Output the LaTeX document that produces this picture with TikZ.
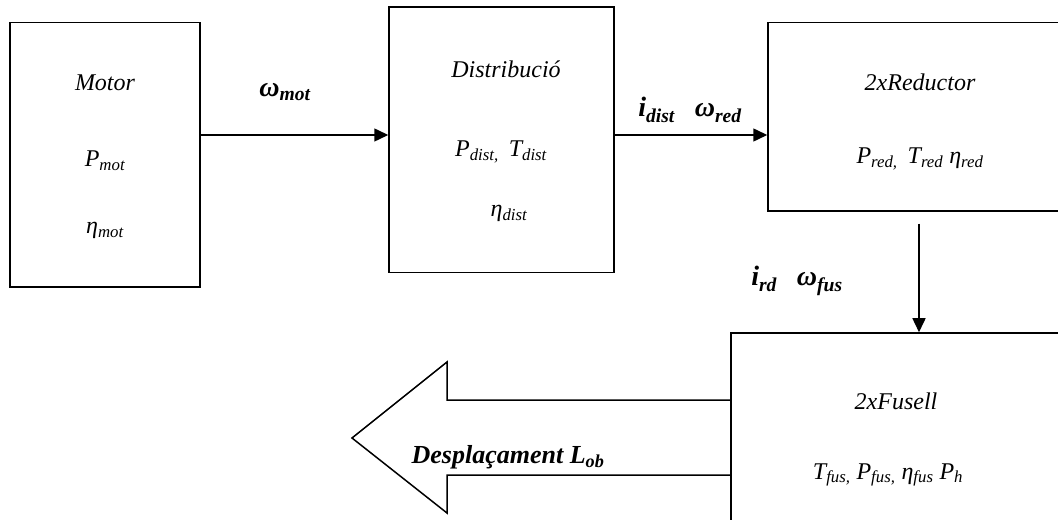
\documentclass[tikz,border=0pt]{standalone}
\usepackage{fontspec}
\setmainfont{Liberation Serif}
\usetikzlibrary{arrows.meta}
\begin{document}
\begin{tikzpicture}[x=1bp,y=-1bp,
  block/.style={draw,line width=1.5bp,inner sep=0pt},
  conn/.style={line width=1.5bp,-{Triangle[length=14bp,width=13bp]}},
  txt/.style={font=\fontsize{24bp}{28bp}\selectfont\itshape,inner sep=0pt,anchor=base},
  lbl/.style={font=\fontsize{28bp}{32bp}\selectfont\bfseries\itshape,inner sep=0pt,anchor=base},
  lblbig/.style={font=\fontsize{26bp}{30bp}\selectfont\bfseries\itshape,inner sep=0pt,anchor=base}]
\fill[white] (0,0) rectangle (1058,520);
\clip (0,0) rectangle (1058,520);

% blocks
\node[block,minimum width=190bp,minimum height=264.3bp] (motor) at (105,154.85) {};
\node[block,minimum width=225bp,minimum height=265.5bp] (dist) at (501.5,139.75) {};
\node[block,minimum width=302bp,minimum height=188.3bp] (red) at (919,116.85) {};
\node[block,minimum width=339bp,minimum height=227bp] (fus) at (900.5,446.5) {};

% block contents
\node[txt] (tmotor) at (105,90.7) {Motor};
\node[txt] (pmot) at (105,166.7) {P\textsubscript{mot}};
\node[txt] (emot) at (105,234) {η\textsubscript{mot}};

\node[txt] (tdist) at (506,77.3) {Distribució};
\node[txt] (pdist) at (501,156.7) {P\textsubscript{dist,}\hspace{10bp}T\textsubscript{dist}};
\node[txt] (edist) at (509,216.7) {η\textsubscript{dist}};

\node[txt] (tred) at (920,90.7) {2xReductor};
\node[txt] (pred) at (920,163.3) {P\textsubscript{red,}\hspace{10bp}T\textsubscript{red} η\textsubscript{red}};

\node[txt] (tfus) at (896,409) {2xFusell};
\node[txt] (pfus) at (888,479) {T\textsubscript{fus,} P\textsubscript{fus,} η\textsubscript{fus} P\textsubscript{h}};

% connectors
\draw[conn] (motor.east |- 0,135) -- (dist.west |- 0,135);
\draw[conn] (dist.east |- 0,135) -- (red.west |- 0,135);
\coordinate (redout) at ([yshift=-12bp]red.south);
\draw[conn] (redout) -- (fus.north -| redout);

% connector labels
\node[lbl] (wmot) at (285,96.7) {ω\textsubscript{mot}};
\node[lbl] (idist) at (690,117) {i\textsubscript{dist}\hspace{20bp}ω\textsubscript{red}};
\node[lbl] (ird) at (797,286) {i\textsubscript{rd}\hspace{20bp}ω\textsubscript{fus}};

% output arrow
\draw[line width=1.5bp,line join=miter] (fus.west |- 0,400) -- (447,400) -- (447,362) -- (352,438)
  -- (447,513) -- (447,475) -- (fus.west |- 0,475);
\node[lblbig] (lob) at (508,463) {Desplaçament L\textsubscript{ob}};
\end{tikzpicture}
\end{document}
